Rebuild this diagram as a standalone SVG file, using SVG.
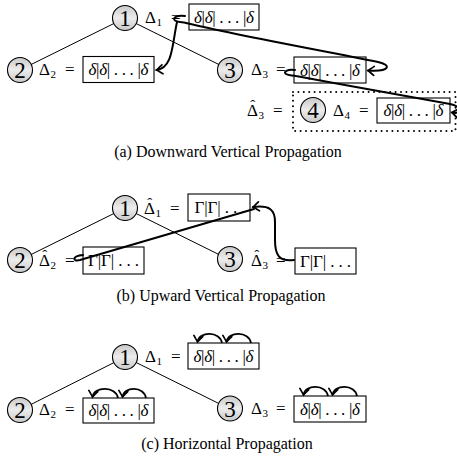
<svg xmlns="http://www.w3.org/2000/svg" width="457" height="461" viewBox="0 0 457 461">
  <defs>
    <linearGradient id="ball" x1="0" y1="0" x2="0" y2="1">
      <stop offset="0" stop-color="#c9c9c9"/>
      <stop offset="0.5" stop-color="#ececec"/>
      <stop offset="1" stop-color="#c9c9c9"/>
    </linearGradient>
    <marker id="tip" markerUnits="userSpaceOnUse" markerWidth="14" markerHeight="14" viewBox="-8 -7 10 14" refX="0" refY="0" orient="auto">
      <path d="M -6 -4.5 Q -1.5 -1 0 0 Q -1.5 1 -6 4.5" fill="none" stroke="#000" stroke-width="1.7" stroke-linecap="round"/>
    </marker>
    <style>
      .node circle { fill: url(#ball); stroke: #000; stroke-width: 1.1; }
      .num { font-family: "Liberation Serif", "Times New Roman", serif; font-size: 23px; text-anchor: middle; fill: #000; }
      .m { font-family: "Liberation Serif", "Times New Roman", serif; font-size: 17px; fill: #000; }
      .hat { font-size: 15px; }
      .sub { font-family: "Liberation Serif", "Times New Roman", serif; font-size: 11px; fill: #000; }
      .box rect { fill: #fff; stroke: #000; stroke-width: 1.1; }
      .bt { font-family: "Liberation Serif", "Times New Roman", serif; font-size: 17px; text-anchor: middle; fill: #000; }
      .it { font-style: italic; }
      .edge { stroke: #000; stroke-width: 1; fill: none; }
      .prop { stroke: #000; stroke-width: 2; fill: none; stroke-linecap: round; stroke-linejoin: round; }
      .harc { stroke: #000; stroke-width: 1.8; fill: none; marker-end: url(#tip); }
      .dots { fill: none; stroke: #000; stroke-width: 2; stroke-dasharray: 0 5.4; stroke-linecap: round; }
      .cap { font-family: "Liberation Serif", "Times New Roman", serif; font-size: 16px; text-anchor: middle; fill: #000; }
    </style>
  </defs>

  <!-- ===== (a) downward vertical propagation ===== -->
  <g id="panel-a">
    <g id="edges-a">
      <line class="edge" x1="125" y1="18" x2="20" y2="70"/>
      <line class="edge" x1="125" y1="18" x2="230" y2="70"/>
    </g>
    <rect id="group-a4" class="dots" x="293" y="92" width="162.5" height="39"/>
    <g id="a-n1" class="node">
      <circle cx="125" cy="18" r="12.5"/>
      <text class="num" x="125" y="26">1</text>
      <text class="m" x="145" y="23">Δ</text><text class="sub" x="156.5" y="26">1</text><text class="m" x="171" y="23">=</text>
      <g class="box"><rect x="189" y="4" width="70" height="26"/><text class="bt" x="224" y="22.5" textLength="60" lengthAdjust="spacing"><tspan class="it">δ</tspan>|<tspan class="it">δ</tspan>| . . . |<tspan class="it">δ</tspan></text></g>
    </g>
    <g id="a-n2" class="node">
      <circle cx="20" cy="70" r="12.5"/>
      <text class="num" x="20" y="78">2</text>
      <text class="m" x="39" y="75">Δ</text><text class="sub" x="50.5" y="78">2</text><text class="m" x="65" y="75">=</text>
      <g class="box"><rect x="83" y="56.5" width="71" height="26"/><text class="bt" x="118.5" y="75" textLength="60" lengthAdjust="spacing"><tspan class="it">δ</tspan>|<tspan class="it">δ</tspan>| . . . |<tspan class="it">δ</tspan></text></g>
    </g>
    <g id="a-n3" class="node">
      <circle cx="230" cy="70" r="12.5"/>
      <text class="num" x="230" y="78">3</text>
      <text class="m" x="251" y="75">Δ</text><text class="sub" x="262.5" y="78">3</text><text class="m" x="276" y="75">=</text>
      <g class="box"><rect x="294" y="57" width="72" height="26"/><text class="bt" x="330" y="75.5" textLength="60" lengthAdjust="spacing"><tspan class="it">δ</tspan>|<tspan class="it">δ</tspan>| . . . |<tspan class="it">δ</tspan></text></g>
      <text class="m" x="247" y="116">Δ<tspan class="hat" dx="-7.7" dy="-6">ˆ</tspan></text><text class="sub" x="258.5" y="119">3</text><text class="m" x="273" y="116">=</text>
    </g>
    <g id="a-n4" class="node">
      <circle cx="313" cy="110" r="12.5"/>
      <text class="num" x="313" y="118">4</text>
      <text class="m" x="333" y="116">Δ</text><text class="sub" x="344.5" y="119">4</text><text class="m" x="359" y="116">=</text>
      <g class="box"><rect x="377" y="98" width="73" height="25"/><text class="bt" x="413.5" y="116" textLength="60" lengthAdjust="spacing"><tspan class="it">δ</tspan>|<tspan class="it">δ</tspan>| . . . |<tspan class="it">δ</tspan></text></g>
    </g>
    <g id="props-a">
      <path class="prop" d="M 185 16 C 177 15 172 18 175 20.5 C 178 22.5 182 22 186 23 C 240 36 330 52 378 62 C 392 65 390 72 368 70.5" marker-end="url(#tip)"/>
      <path class="prop" d="M 177 22 C 172 45 173 68 156.5 70" marker-end="url(#tip)"/>
      <path class="prop" d="M 295 70 C 287 69 283 72 286 74 C 289 76 292 75 296 76 C 350 86 410 97 450 104 C 463 107 462 114 452 112.5" marker-end="url(#tip)"/>
    </g>
    <text class="cap" x="228" y="157">(a) Downward Vertical Propagation</text>
  </g>

  <!-- ===== (b) upward vertical propagation ===== -->
  <g id="panel-b" transform="translate(0,190)">
    <g id="edges-b">
      <line class="edge" x1="125" y1="18" x2="20" y2="70"/>
      <line class="edge" x1="125" y1="18" x2="230" y2="70"/>
    </g>
    <g id="b-n1" class="node">
      <circle cx="125" cy="18" r="12.5"/>
      <text class="num" x="125" y="26">1</text>
      <text class="m" x="144" y="24">Δ<tspan class="hat" dx="-7.7" dy="-6">ˆ</tspan></text><text class="sub" x="155.5" y="27">1</text><text class="m" x="170" y="24">=</text>
      <g class="box"><rect x="188" y="4" width="62" height="27"/><text class="bt" x="220" y="23" textLength="51" lengthAdjust="spacing">Γ|Γ| . . .</text></g>
    </g>
    <g id="b-n2" class="node">
      <circle cx="20" cy="70" r="12.5"/>
      <text class="num" x="20" y="78">2</text>
      <text class="m" x="39" y="76">Δ<tspan class="hat" dx="-7.7" dy="-6">ˆ</tspan></text><text class="sub" x="50.5" y="79">2</text><text class="m" x="65" y="76">=</text>
      <g class="box"><rect x="83" y="57" width="61" height="27"/><text class="bt" x="113.5" y="76" textLength="51" lengthAdjust="spacing">Γ|Γ| . . .</text></g>
    </g>
    <g id="b-n3" class="node">
      <circle cx="230" cy="69" r="12.5"/>
      <text class="num" x="230" y="77">3</text>
      <text class="m" x="251" y="76">Δ<tspan class="hat" dx="-7.7" dy="-6">ˆ</tspan></text><text class="sub" x="262.5" y="79">3</text><text class="m" x="276" y="76">=</text>
      <g class="box"><rect x="295" y="58" width="61" height="26"/><text class="bt" x="325.5" y="76.5" textLength="51" lengthAdjust="spacing">Γ|Γ| . . .</text></g>
    </g>
    <g id="props-b">
      <path class="prop" d="M 294 70 C 279 72 275 65 275 50 L 275 32 C 275 20 270 15 253 17" marker-end="url(#tip)"/>
      <path class="prop" d="M 83 65 C 72 66 72 72 80 70 L 254 19"/>
    </g>
    <text class="cap" x="221" y="111">(b) Upward Vertical Propagation</text>
  </g>

  <!-- ===== (c) horizontal propagation ===== -->
  <g id="panel-c" transform="translate(0,339)">
    <g id="edges-c">
      <line class="edge" x1="125" y1="18" x2="20" y2="71"/>
      <line class="edge" x1="125" y1="18" x2="230" y2="70"/>
    </g>
    <g id="c-n1" class="node">
      <circle cx="125" cy="18" r="12.5"/>
      <text class="num" x="125" y="26">1</text>
      <text class="m" x="145" y="23">Δ</text><text class="sub" x="156.5" y="26">1</text><text class="m" x="171" y="23">=</text>
      <g class="box"><rect x="188" y="4" width="71" height="26"/><text class="bt" x="223.5" y="22.5" textLength="60" lengthAdjust="spacing"><tspan class="it">δ</tspan>|<tspan class="it">δ</tspan>| . . . |<tspan class="it">δ</tspan></text></g>
    </g>
    <g id="c-n2" class="node">
      <circle cx="20" cy="71" r="12.5"/>
      <text class="num" x="20" y="79">2</text>
      <text class="m" x="39" y="76">Δ</text><text class="sub" x="50.5" y="79">2</text><text class="m" x="65" y="76">=</text>
      <g class="box"><rect x="83" y="59" width="71" height="25"/><text class="bt" x="118.5" y="77" textLength="60" lengthAdjust="spacing"><tspan class="it">δ</tspan>|<tspan class="it">δ</tspan>| . . . |<tspan class="it">δ</tspan></text></g>
    </g>
    <g id="c-n3" class="node">
      <circle cx="230" cy="69.5" r="12.5"/>
      <text class="num" x="230" y="77.5">3</text>
      <text class="m" x="251" y="75">Δ</text><text class="sub" x="262.5" y="78">3</text><text class="m" x="276" y="75">=</text>
      <g class="box"><rect x="294" y="57" width="72" height="26"/><text class="bt" x="330" y="75.5" textLength="60" lengthAdjust="spacing"><tspan class="it">δ</tspan>|<tspan class="it">δ</tspan>| . . . |<tspan class="it">δ</tspan></text></g>
    </g>
    <g id="props-c">
      <path class="harc" d="M 222 4 C 220 -8 199 -8 197.5 3"/>
      <path class="harc" d="M 251 4 C 249 -8 228 -8 226.5 3"/>
      <path class="harc" d="M 118 59 C 116 47 94 47 92.5 58"/>
      <path class="harc" d="M 146 59 C 144 47 124 47 122.5 58"/>
      <path class="harc" d="M 328 57 C 326 45 305 45 303.5 56"/>
      <path class="harc" d="M 357 57 C 355 45 334 45 332.5 56"/>
    </g>
    <text class="cap" x="227" y="110">(c)  Horizontal Propagation</text>
  </g>
</svg>
